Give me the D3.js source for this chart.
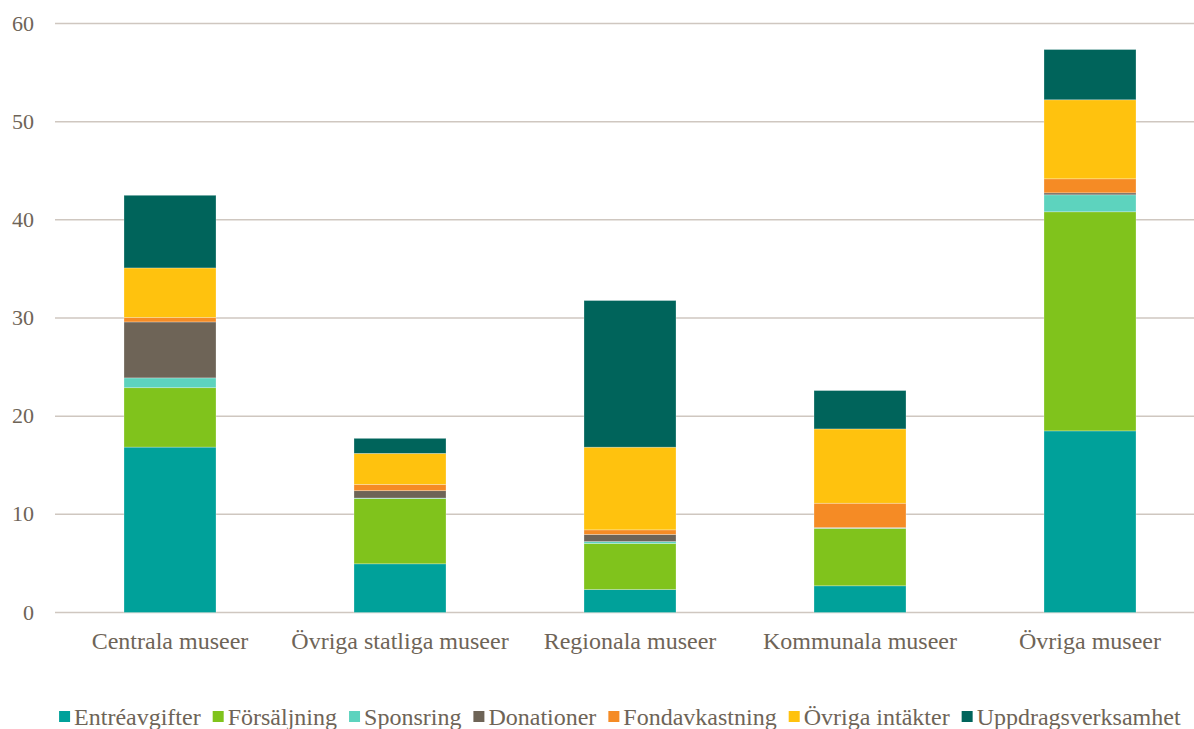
<!DOCTYPE html>
<html>
<head>
<meta charset="utf-8">
<script src="https://cdn.jsdelivr.net/npm/d3@7"></script>
<style>
  body { margin: 0; background: #fff; }
  text { font-family: "Liberation Serif", "Times New Roman", serif; fill: #6E6457; }
</style>
</head>
<body>
<div id="chart"></div>
<script>
// Kategorier (museityper)
var categories = ["Centrala museer", "Övriga statliga museer", "Regionala museer", "Kommunala museer", "Övriga museer"];

// Serier och värden
var seriesNames = ["Entréavgifter", "Försäljning", "Sponsring", "Donationer", "Fondavkastning", "Övriga intäkter", "Uppdragsverksamhet"];
var entreavgifter      = [16.85, 4.96, 2.34, 2.72, 18.5];
var forsaljning        = [6.05, 6.65, 4.69, 5.85, 22.32];
var sponsring          = [1.0, 0.05, 0.2, 0.03, 1.73];
var donationer         = [5.7, 0.75, 0.72, 0.05, 0.2];
var fondavkastning     = [0.45, 0.64, 0.47, 2.48, 1.43];
var ovrigaIntakter     = [5.05, 3.16, 8.42, 7.57, 8.05];
var uppdragsverksamhet = [7.4, 1.53, 14.94, 3.91, 5.12];
var seriesColors = ["#00A19A", "#80C31C", "#5DD3BE", "#6E6457", "#F58B25", "#FFC20E", "#00645B"];
var yTicks = [0, 10, 20, 30, 40, 50, 60];

var seriesValues = [entreavgifter, forsaljning, sponsring, donationer, fondavkastning, ovrigaIntakter, uppdragsverksamhet];

// Bygg tabell för d3.stack
var table = categories.map(function(c, i) {
    var row = { category: c };
    seriesNames.forEach(function(s, j) { row[s] = seriesValues[j][i]; });
    return row;
});

var width = 1194, height = 729;
var margin = { top: 23.5, left: 55, bottom: 116.5 };

var svg = d3.select("#chart").append("svg")
    .attr("width", width)
    .attr("height", height);

var xScale = d3.scaleBand()
    .domain(categories)
    .range([margin.left, margin.left + 230 * categories.length])
    .paddingInner(0.6)
    .paddingOuter(0.3);

var yScale = d3.scaleLinear()
    .domain([0, 60])
    .range([height - margin.bottom, margin.top]);

// Stödlinjer
svg.append("g").selectAll("line")
    .data(yTicks)
    .enter().append("line")
    .attr("x1", margin.left)
    .attr("x2", width)
    .attr("y1", function(d) { return yScale(d); })
    .attr("y2", function(d) { return yScale(d); })
    .attr("stroke", "#CFC7C0")
    .attr("stroke-width", 1.5);

// Y-axelns etiketter
svg.append("g").selectAll("text")
    .data(yTicks)
    .enter().append("text")
    .attr("x", 34)
    .attr("y", function(d) { return yScale(d) + 7; })
    .attr("text-anchor", "end")
    .style("font-size", "22px")
    .text(function(d) { return d; });

// Staplade staplar
var stack = d3.stack().keys(seriesNames);
var stacked = stack(table);

svg.append("g").selectAll("g")
    .data(stacked)
    .enter().append("g")
    .attr("fill", function(d, i) { return seriesColors[i]; })
    .selectAll("rect")
    .data(function(d) { return d; })
    .enter().append("rect")
    .attr("x", function(d) { return xScale(d.data.category); })
    .attr("width", xScale.bandwidth())
    .attr("y", function(d) { return yScale(d[1]); })
    .attr("height", function(d) { return Math.max(0, yScale(d[0]) - yScale(d[1])); })
    .attr("stroke", "rgba(255,255,255,0.35)")
    .attr("stroke-width", 0.75);

// X-axelns etiketter
svg.append("g").selectAll("text")
    .data(categories)
    .enter().append("text")
    .attr("x", function(d) { return xScale(d) + xScale.bandwidth() / 2; })
    .attr("y", 649)
    .attr("text-anchor", "middle")
    .style("font-size", "24px")
    .text(function(d) { return d; });

// Förklaring
var legend = svg.append("g");
var items = legend.selectAll("g")
    .data(seriesNames)
    .enter().append("g");

items.append("rect")
    .attr("width", 11)
    .attr("height", 11)
    .attr("y", 711)
    .attr("fill", function(d, i) { return seriesColors[i]; });

items.append("text")
    .attr("x", 15)
    .attr("y", 725)
    .style("font-size", "24px")
    .text(function(d) { return d; });

var itemGap = 12;
var widths = [];
items.each(function() { widths.push(this.getBBox().width); });
var total = d3.sum(widths) + itemGap * (widths.length - 1);
var xPos = (width - total) / 2 + 23;
items.each(function(d, i) {
    d3.select(this).attr("transform", "translate(" + xPos + ",0)");
    xPos += widths[i] + itemGap;
});
</script>
</body>
</html>
